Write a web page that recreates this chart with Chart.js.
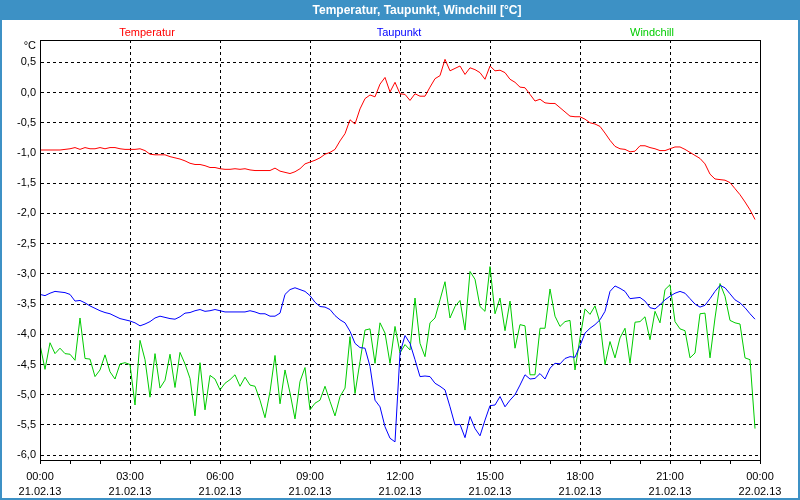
<!DOCTYPE html>
<html>
<head>
<meta charset="utf-8">
<title>Temperatur, Taupunkt, Windchill</title>
<script src="https://cdn.jsdelivr.net/npm/chart.js@4.4.0/dist/chart.umd.min.js"></script>
<style>
  html, body { margin: 0; padding: 0; background: #fff; }
  canvas { display: block; }
</style>
</head>
<body>
<canvas id="chart" width="800" height="500"></canvas>
<script>
// one reading every 10 minutes, starting 21.02.13 00:00
const stepMinutes = 10;

const temperatur = [
  -0.95, -0.95, -0.95, -0.95, -0.95, -0.94, -0.93, -0.91, -0.94, -0.91, -0.93, -0.93,
  -0.91, -0.93, -0.91, -0.91, -0.93, -0.94, -0.94, -0.94, -0.93, -0.96, -1.02, -1.03,
  -1.03, -1.03, -1.06, -1.08, -1.10, -1.13, -1.17, -1.19, -1.19, -1.21, -1.24, -1.24,
  -1.26, -1.27, -1.27, -1.26, -1.27, -1.26, -1.28, -1.29, -1.29, -1.29, -1.29, -1.25,
  -1.30, -1.32, -1.34, -1.31, -1.26, -1.18, -1.15, -1.12, -1.08, -1.02, -0.99, -0.94,
  -0.80, -0.68, -0.45, -0.52, -0.27, -0.10, -0.04, -0.07, 0.14, 0.25, 0.01, 0.17,
  -0.02, -0.03, -0.13, -0.02, -0.06, -0.06, 0.09, 0.23, 0.28, 0.55, 0.36, 0.40,
  0.44, 0.30, 0.41, 0.38, 0.33, 0.22, 0.44, 0.36, 0.37, 0.33, 0.22, 0.17,
  0.09, 0.08, -0.03, -0.14, -0.11, -0.17, -0.18, -0.18, -0.25, -0.32, -0.39, -0.40,
  -0.40, -0.44, -0.50, -0.52, -0.56, -0.67, -0.79, -0.89, -0.93, -0.94, -0.98, -0.97,
  -0.88, -0.88, -0.91, -0.93, -0.96, -0.96, -0.93, -0.90, -0.90, -0.94, -0.99, -1.04,
  -1.09, -1.18, -1.35, -1.43, -1.44, -1.45, -1.49, -1.59, -1.69, -1.81, -1.94, -2.10
];

const taupunkt = [
  -3.34, -3.36, -3.32, -3.29, -3.30, -3.31, -3.34, -3.45, -3.44, -3.48, -3.53, -3.57,
  -3.61, -3.64, -3.66, -3.70, -3.74, -3.76, -3.78, -3.81, -3.86, -3.83, -3.79, -3.73,
  -3.70, -3.72, -3.74, -3.75, -3.71, -3.65, -3.64, -3.61, -3.59, -3.62, -3.61, -3.59,
  -3.61, -3.63, -3.63, -3.63, -3.63, -3.63, -3.61, -3.63, -3.66, -3.66, -3.70, -3.70,
  -3.65, -3.34, -3.26, -3.23, -3.26, -3.29, -3.36, -3.47, -3.54, -3.55, -3.59, -3.69,
  -3.76, -3.81, -3.95, -4.15, -4.22, -4.23, -4.53, -5.09, -5.20, -5.53, -5.72, -5.78,
  -4.31, -4.02, -4.15, -4.42, -4.70, -4.69, -4.70, -4.81, -4.86, -4.92, -5.20, -5.50,
  -5.49, -5.71, -5.36, -5.56, -5.68, -5.42, -5.18, -5.17, -5.03, -5.20, -5.09, -5.00,
  -4.84, -4.67, -4.74, -4.73, -4.65, -4.74, -4.56, -4.48, -4.49, -4.40, -4.37, -4.38,
  -4.19, -3.98, -3.90, -3.84, -3.76, -3.62, -3.29, -3.20, -3.24, -3.29, -3.41, -3.40,
  -3.39, -3.45, -3.56, -3.58, -3.51, -3.43, -3.37, -3.32, -3.29, -3.32, -3.41, -3.50,
  -3.55, -3.52, -3.41, -3.29, -3.19, -3.23, -3.33, -3.43, -3.48, -3.56, -3.66, -3.75
];

const windchill = [
  -4.17, -4.58, -4.14, -4.32, -4.23, -4.32, -4.33, -4.43, -3.73, -4.40, -4.41, -4.70,
  -4.59, -4.34, -4.62, -4.74, -4.49, -4.47, -4.50, -5.17, -4.10, -4.42, -5.04, -4.32,
  -4.89, -4.76, -4.33, -4.88, -4.30, -4.49, -4.73, -5.35, -4.47, -5.25, -4.68, -4.74,
  -4.92, -4.81, -4.75, -4.67, -4.86, -4.71, -4.84, -4.86, -5.09, -5.38, -4.95, -4.35,
  -5.15, -4.59, -4.97, -5.40, -4.78, -4.55, -5.25, -5.14, -5.09, -4.86, -5.11, -5.35,
  -5.03, -4.89, -4.04, -4.98, -4.45, -3.93, -3.91, -4.48, -3.81, -3.98, -4.48, -3.87,
  -4.31, -4.17, -4.26, -3.40, -4.15, -4.37, -3.81, -3.73, -3.43, -3.13, -3.73, -3.54,
  -3.44, -3.93, -2.96, -3.09, -3.54, -3.62, -2.88, -3.66, -3.40, -3.94, -3.45, -4.23,
  -3.84, -3.86, -4.67, -4.67, -3.90, -3.90, -3.25, -3.70, -3.87, -3.79, -3.77, -4.59,
  -4.06, -3.58, -3.67, -3.53, -3.81, -4.50, -4.12, -4.39, -4.06, -3.90, -4.48, -3.80,
  -3.79, -3.71, -4.09, -3.62, -3.81, -3.26, -3.18, -3.79, -3.91, -3.94, -4.39, -4.31,
  -3.66, -3.65, -4.39, -3.73, -3.16, -3.37, -3.77, -3.81, -3.83, -4.39, -4.42, -5.56
];

const yTicks = [-6.0, -5.5, -5.0, -4.5, -4.0, -3.5, -3.0, -2.5, -2.0, -1.5, -1.0, -0.5, 0.0, 0.5];
const xTickHours = [0, 1, 2, 3, 4, 5, 6, 7, 8, 9, 10, 11, 12, 13, 14, 15, 16, 17, 18, 19, 20, 21, 22, 23, 24];
const xLabelTimes = ['00:00', '03:00', '06:00', '09:00', '12:00', '15:00', '18:00', '21:00', '00:00'];
const xLabelDates = ['21.02.13', '21.02.13', '21.02.13', '21.02.13', '21.02.13', '21.02.13', '21.02.13', '21.02.13', '22.02.13'];

const seriesNames = ['Temperatur', 'Taupunkt', 'Windchill'];
const seriesColors = ['#ff0000', '#0000ff', '#00cc00'];

const FONT = '"Liberation Sans", Arial, sans-serif';
const titleBlue = '#3d91c5';

function toPoints(values) {
    return values.map((v, i) => ({ x: i * stepMinutes / 60, y: v }));
}

const windowFrame = {
    id: 'windowFrame',
    beforeDraw(chart) {
        const { ctx, width, height } = chart;
        ctx.save();
        ctx.fillStyle = '#fff';
        ctx.fillRect(0, 0, width, height);
        ctx.fillStyle = titleBlue;
        ctx.fillRect(0, 0, width, 20);
        ctx.fillRect(0, 0, 2, height);
        ctx.fillRect(width - 2, 0, 2, height);
        ctx.fillRect(0, height - 2, width, 2);
        ctx.restore();
    },
    afterDraw(chart) {
        const { ctx, chartArea: a } = chart;
        ctx.save();
        ctx.strokeStyle = '#000';
        ctx.lineWidth = 1;
        ctx.strokeRect(a.left + 0.5, a.top + 0.5, a.right - a.left, a.bottom - a.top);

        ctx.textBaseline = 'middle';
        ctx.textAlign = 'center';
        ctx.fillStyle = '#fff';
        ctx.font = 'bold 12px ' + FONT;
        ctx.fillText('Temperatur, Taupunkt, Windchill [°C]', 417, 10.5);

        // legend row
        const legendX = [147, 399, 652];
        ctx.font = '11px ' + FONT;
        seriesNames.forEach((name, i) => {
            ctx.fillStyle = seriesColors[i];
            ctx.fillText(name, legendX[i], 32.5);
        });

        ctx.textAlign = 'right';
        ctx.fillStyle = '#000';
        ctx.fillText('°C', 36, 46);
        ctx.restore();
    }
};

new Chart(document.getElementById('chart').getContext('2d'), {
    type: 'line',
    data: {
        datasets: seriesNames.map((name, i) => ({
            label: name,
            data: toPoints([temperatur, taupunkt, windchill][i]),
            borderColor: seriesColors[i],
            borderWidth: 1,
            pointRadius: 0,
            tension: 0,
            fill: false
        }))
    },
    plugins: [windowFrame],
    options: {
        responsive: false,
        animation: false,
        devicePixelRatio: 1,
        layout: { padding: { left: 0, right: 40, top: 40, bottom: 0 } },
        plugins: {
            legend: { display: false },
            title: { display: false },
            tooltip: { enabled: false }
        },
        scales: {
            x: {
                type: 'linear',
                min: 0,
                max: 24,
                afterBuildTicks: scale => { scale.ticks = xTickHours.map(v => ({ value: v })); },
                afterFit: scale => { scale.height = 40; },
                ticks: {
                    autoSkip: false,
                    maxRotation: 0,
                    padding: 5,
                    color: '#000',
                    font: { family: FONT, size: 11, lineHeight: 1.4 },
                    callback: value => value % 3 === 0 ? [xLabelTimes[value / 3], xLabelDates[value / 3]] : ''
                },
                grid: {
                    color: c => (c.tick && c.tick.value % 3 === 0 && c.tick.value > 0 && c.tick.value < 24) ? '#000' : 'rgba(0,0,0,0)',
                    tickColor: '#000',
                    tickLength: 4,
                    lineWidth: 1
                },
                border: { display: true, color: '#000', width: 1, dash: [3, 3] }
            },
            y: {
                min: -6.08,
                max: 0.87,
                afterBuildTicks: scale => { scale.ticks = yTicks.map(v => ({ value: v })); },
                afterFit: scale => { scale.width = 40; },
                ticks: {
                    padding: 4,
                    color: '#000',
                    font: { family: FONT, size: 11 },
                    callback: value => value.toFixed(1).replace('.', ',')
                },
                grid: {
                    color: '#000',
                    drawTicks: false,
                    lineWidth: 1
                },
                border: { display: true, color: '#000', width: 1, dash: [3, 3] }
            }
        }
    }
});
</script>
</body>
</html>
